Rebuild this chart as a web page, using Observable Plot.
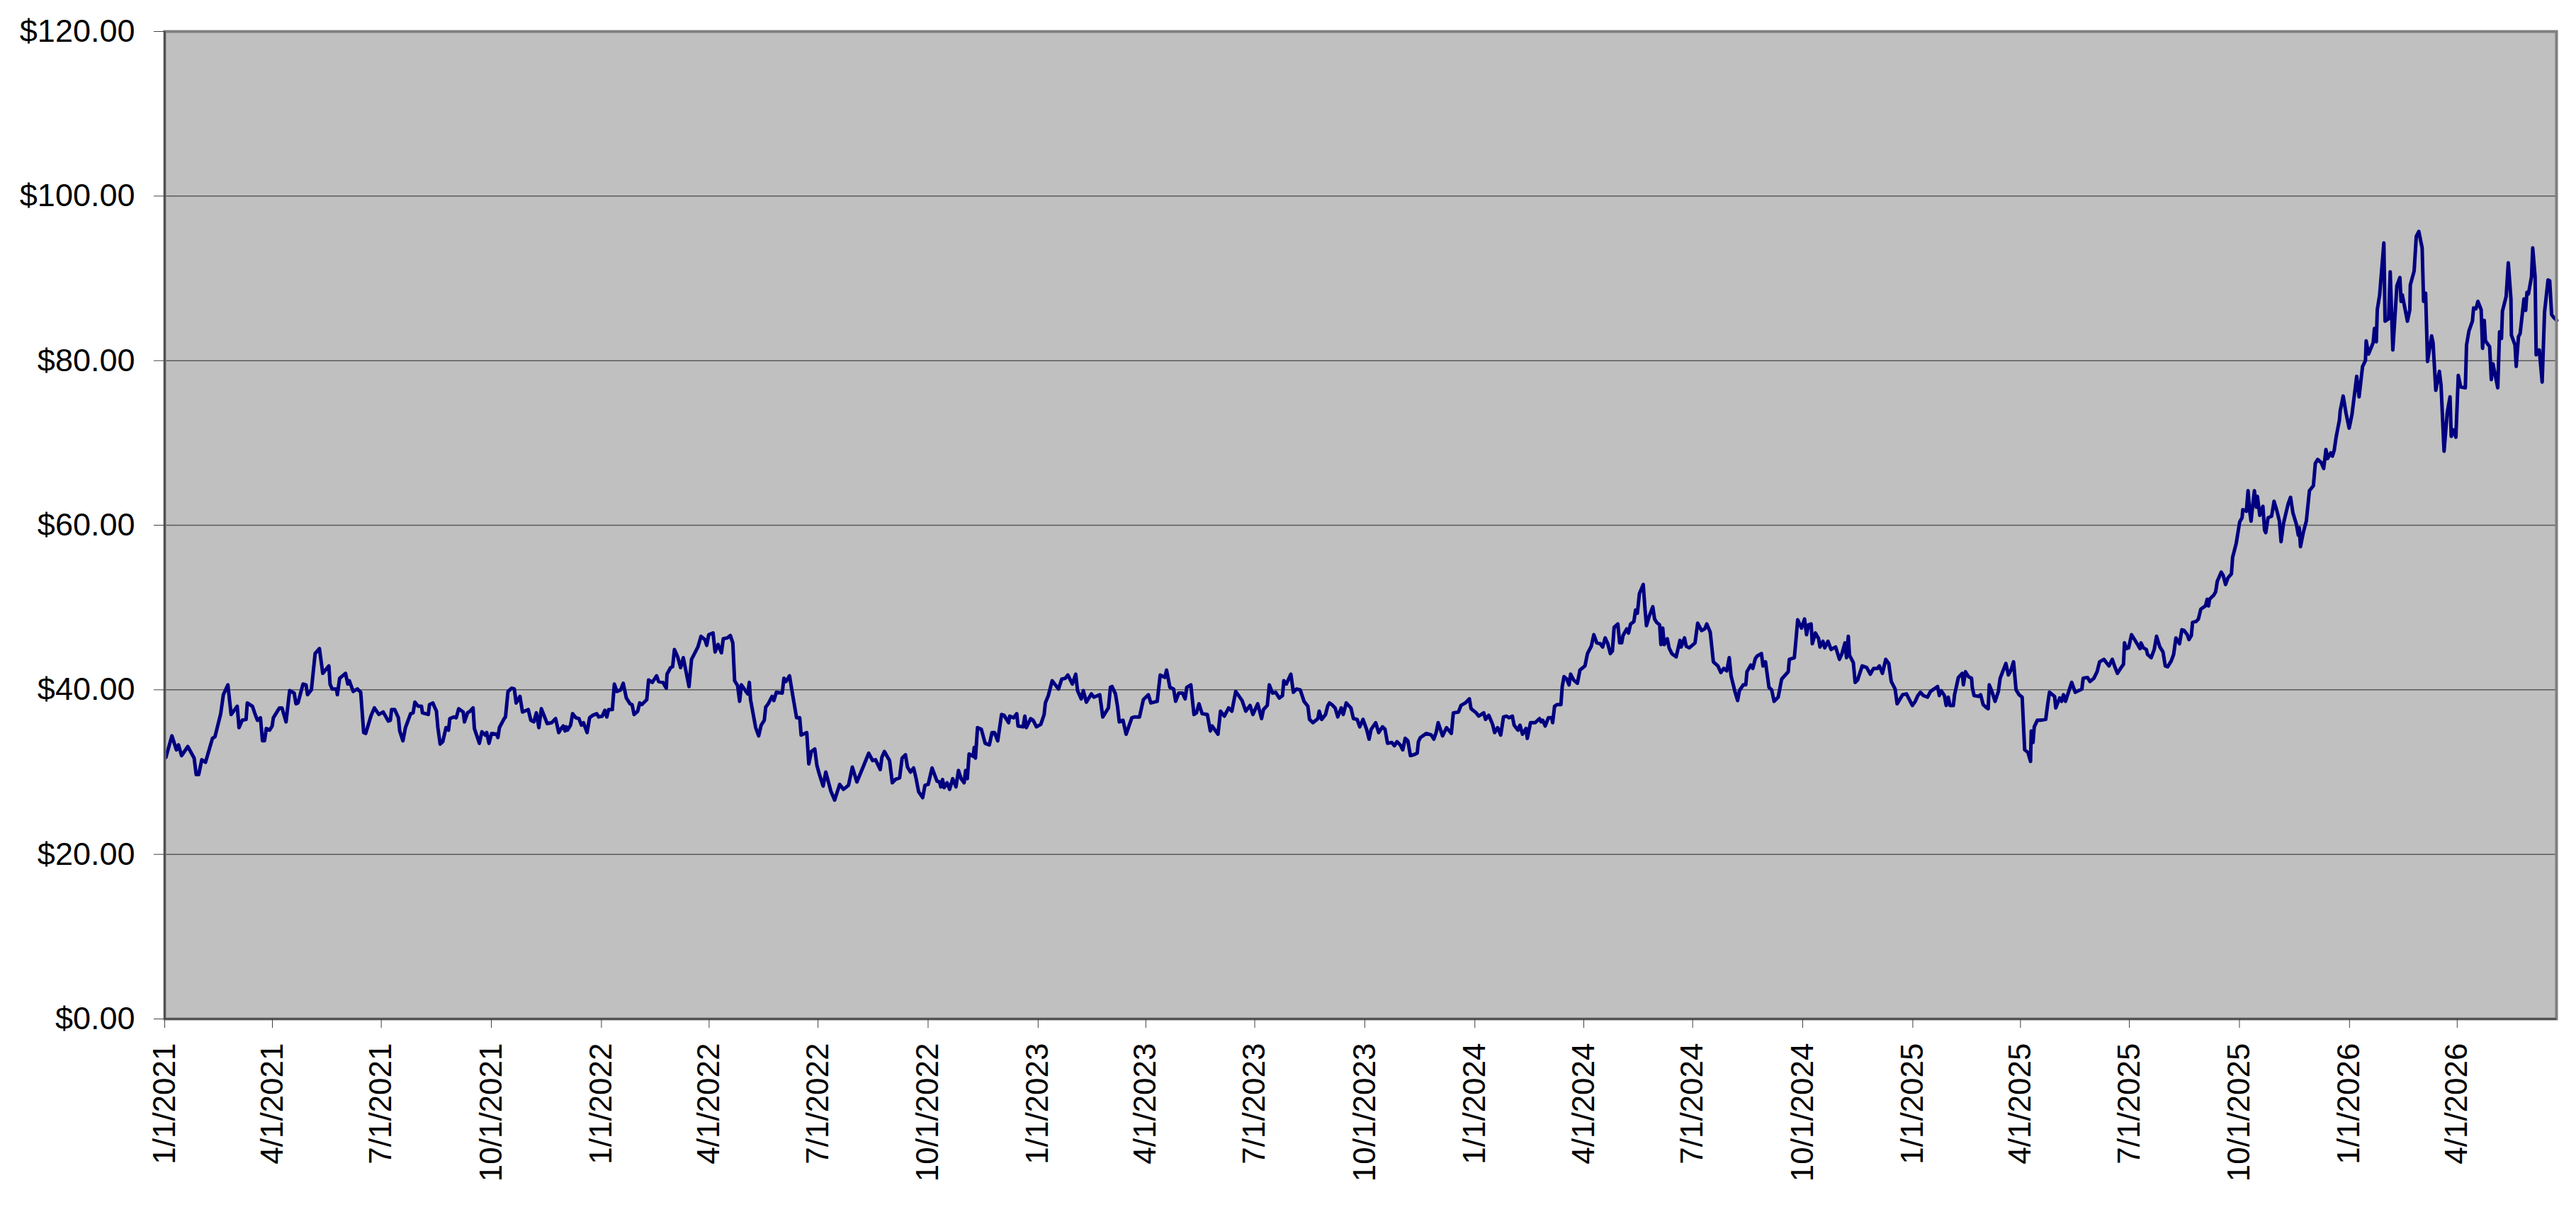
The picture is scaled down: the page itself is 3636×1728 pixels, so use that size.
<!DOCTYPE html>
<html>
<head>
<meta charset="utf-8">
<script src="https://cdn.jsdelivr.net/npm/d3@7"></script>
<script src="https://cdn.jsdelivr.net/npm/@observablehq/plot@0.6"></script>
<style>
  html, body { margin: 0; padding: 0; background: #ffffff; }
  #chart svg { display: block; }
</style>
</head>
<body>
<div id="chart"></div>
<script>
// ---- Data ----
const startDate = "2021-01-01";
const endDate = "2026-06-23";

// days after 1/1/2021
const dayOffsets = [
1,6.0,9.8,11.5,14.1,19.3,24.6,26.3,28.4,31.0,34.1,39.9,42.0,46.8,49.0,52.8,55.5,60.6,62.1,64.8,68.0,69.0,73.3,75.4,77.5,80.0,81.7,83.4,84.9,87.7,89.8,90.8,95.9,98.0,101.4,104.4,108.2,109.7,111.4,115.6,118.1,119.4,122.6,125.7,129.3,132.1,137.2,138.2,139.9,143.5,144.3,146.2,151.1,153.0,154.3,157.5,161.1,163.8,166.3,168.0,172.3,175.2,179.0,182.6,186.9,188.6,189.6,192.2,195.3,196.4,199.1,201.2,205.5,207.6,209.1,211.8,214.6,215.4,220.3,221.3,224.1,227.1,228.3,230.2,232.4,235.1,237.2,238.3,241.4,243.6,245.7,249.5,250.5,253.1,255.2,257.7,258.8,263.0,265.1,267.9,269.1,271.0,273.2,277.4,278.5,279.7,283.7,284.8,286.9,290.1,292.2,293.7,296.9,299.0,303.8,306.0,308.5,310.6,312.7,314.8,319.7,
323.4,326.7,329.3,331.4,333.1,334.6,335.6,336.7,339.2,340.9,343.7,346.2,348.3,350.0,353.0,355.1,357.8,361.0,362.7,365.7,367.8,369.5,371.0,374.1,375.8,377.9,381.1,383.2,385.8,388.9,390.6,392.3,395.3,397.0,398.7,402.9,404.4,407.5,411.1,412.8,416.4,419.2,419.8,422.8,424.5,426.0,428.7,431.2,433.4,438.2,440.3,443.5,445.6,448.2,451.5,453.0,454.7,458.3,460.0,462.5,465.3,466.8,470.0,472.7,474.8,476.3,478.8,480.5,482.0,485.8,487.3,488.6,489.6,493.9,496.4,498.5,501.1,502.3,504.4,507.6,509.1,511.2,516.1,517.5,519.2,522.2,524.9,528.1,530.7,531.9,536.6,538.3,540.4,543.3,545.1,547.2,550.3,552.5,556.7,559.9,564.1,567.3,571.5,574.7,578.5,584.2,588.4,591.6,594.1,598.0,599.4,601.5,605.8,608.1,610.6,614.2,616.3,619.1,620.8,623.3,625.9,628.0,630.1,633.5,635.4,638.1,641.3,
645.5,647.6,648.6,650.1,651.4,653.9,656.0,658.6,661.3,663.4,665.6,668.1,669.4,670.8,672.3,675.7,676.6,677.6,679.3,682.5,685.7,689.2,691.4,693.5,696.2,699.4,701.5,705.3,706.2,709.6,712.1,713.2,717.4,718.9,720.1,723.7,725.8,728.6,732.2,735.0,736.0,738.5,741.7,747.0,749.7,752.7,754.8,758.6,761.4,762.9,766.0,767.7,770.3,774.5,776.6,781.5,784.0,788.7,790.4,791.8,794.6,796.3,797.8,800.9,803.5,808.3,810.5,814.7,817.9,822.1,824.2,829.5,832.0,835.9,837.3,840.1,843.2,844.9,847.5,850.7,852.8,854.2,857.6,860.2,862.3,864.4,867.0,871.4,873.9,875.4,880.3,882.4,885.6,889.2,891.9,895.1,900.4,903.5,907.1,909.5,913.5,916.7,918.3,921.5,923.2,925.8,928.5,931.5,934.2,935.3,937.4,941.2,943.3,945.9,949.0,952.2,955.4,956.8,959.6,963.8,964.9,967.0,970.2,971.9,
973.4,975.5,978.2,980.4,983.3,985.0,987.5,991.4,993.5,996.6,998.8,1001.5,1004.5,1006.6,1008.3,1012.1,1014.6,1017.8,1019.9,1022.0,1025.6,1027.7,1029.9,1032.6,1034.7,1036.8,1039.0,1041.1,1043.8,1046.8,1047.8,1049.5,1054.4,1058.6,1060.7,1062.6,1064.3,1068.0,1071.3,1075.3,1077.0,1081.3,1083.4,1087.0,1090.4,1091.8,1096.1,1098.2,1102.4,1103.9,1106.6,1109.8,1111.5,1114.0,1116.6,1118.9,1121.5,1123.6,1126.3,1127.8,1131.0,1132.7,1134.8,1137.7,1138.8,1141.5,1145.4,1149.0,1150.4,1151.7,1153.8,1156.4,1159.1,1160.0,1161.6,1163.8,1166.9,1168.0,1169.5,1171.8,1173.7,1175.0,1177.5,1180.7,1182.8,1187.0,1189.1,1192.3,1194.4,1196.9,1199.7,1201.8,1203.9,1206.1,1208.2,1209.9,1211.4,1214.5,1216.0,1217.7,1218.8,1221.9,1223.4,1225.1,1227.9,1229.3,1230.8,1232.5,1235.7,1237.2,1238.4,1240.6,1243.7,1245.2,1246.9,1249.4,1250.5,1252.0,1253.2,1255.8,1257.3,1259.6,1263.2,1266.4,1267.4,1270.2,1271.6,1274.2,1279.0,1281.2,1284.4,1287.1,1288.8,1291.7,1294.3,1298.1,1300.6,
1303.0,1305.5,1307.6,1309.1,1312.5,1314.6,1316.1,1319.3,1321.4,1322.4,1325.6,1327.3,1329.4,1330.9,1334.5,1335.8,1337.9,1340.8,1343.0,1345.1,1348.5,1351.4,1356.9,1357.8,1362.0,1363.3,1364.8,1368.0,1370.5,1372.2,1373.8,1376.0,1377.0,1379.6,1382.3,1383.4,1385.9,1387.4,1390.1,1392.7,1396.5,1399.7,1401.8,1404.3,1405.6,1407.1,1408.1,1411.3,1412.8,1414.9,1418.7,1422.5,1425.5,1428.2,1431.4,1433.1,1435.6,1438.4,1440.9,1443.0,1446.2,1447.9,1452.5,1455.7,1460.6,1463.1,1465.2,1467.4,1469.9,1473.3,1475.8,1481.7,1483.2,1484.7,1487.4,1488.9,1490.6,1492.1,1494.9,1495.9,1499.1,1502.3,1503.3,1505.0,1507.5,1510.1,1510.7,1512.2,1516.0,1517.7,1519.8,1522.8,1524.0,1524.9,1526.6,1529.8,1532.5,1534.0,1536.1,1538.8,1540.9,1543.1,1545.2,1547.3,1549.8,1552.4,1554.5,1557.2,1559.4,1560.0,1561.5,1562.5,1565.1,1567.8,1572.1,1573.5,1575.2,1579.5,1580.5,1583.7,1585.4,1586.9,1588.6,1591.1,1593.8,1596.8,1602.3,1603.4,1607.0,1609.1,1612.3,1615.0,1617.1,1620.7,1622.8,1625.0,1627.7,
1629.6,1632.0,1635.1,1637.1,1637.9,1639.5,1641.4,1643.8,1646.4,1648.9,1650.9,1651.7,1653.7,1656.2,1657.2,1660.2,1662.8,1664.7,1667.5,1670.1,1672.0,1674.0,1677.0,1679.0,1680.9,1683.9,1685.9,1687.8,1690.4,1691.8,1693.8,1694.8,1697.7,1699.7,1701.7,1705.6,1707.0,1708.2,1709.0,1712.5,1714.1,1715.5,1718.8,1720.4,1722.4,1724.4,1727.3,1728.3,1731.3,1734.2,1736.2,1736.8,1739.8,1741.2,1742.5,1743.7,1745.1,1746.5,1748.1,1749.0,1751.0,1753.6,1755.0,1756.0,1757.9,1760.9,1762.9,1765.4,1767.4,1768.8,1770.8,1774.7,1776.7,1778.7,1781.6,1783.2,1784.0,1785.0,1787.5,1789.9,1792.5,1795.8,1797.4,1799.4,
1802.4,1804.4,1806.3,1807.7,1810.3,1811.7,1813.2,1814.8,1817.6,1818.2,1820.7,1823.1,1825.7,1828.0,1832.0,1834.0,1836.9,1839.3,1839.9,1841.9,1845.8,1846.8,1848.4,1849.2,1851.2,1854.7,1855.7,1858.7,1860.0,1862.2,1865.6,1868.1,1869.1,1870.1,1874.4,1876.4,1876.8,1880.0,1881.8,1883.9,1886.7,1887.9,1889.6,1891.2,1894.6,1895.8,1898.1,1901.1,1902.5,1905.0,1907.6,1910.0,1911.0,1913.0,1914.9,1916.9,1918.9,1922.8,1923.8,1925.8,1928.7,1929.7,1931.7,1933.3,1936.0,1937.2,1938.6,1939.6,1943.1,1944.5,1945.9,1949.9,1951.4,1953.0,1953.8,1956.9,1958.7,1960.9,1961.3,1964.3,1965.3,1967.2,1968.6,1971.8,1973.2,1974.3,1975.5,1978.1,1979.1,1981.1,1982.0,1984.6,1987.0,1989.0,1991.9,1993.3,1994.9,1996.9,1999.2
];

// price in dollars
const prices = [
31.8,34.4,32.7,33.3,32.0,33.1,31.7,29.7,29.7,31.5,31.2,34.1,34.3,37.1,39.4,40.6,37.0,38.0,35.4,36.3,36.4,38.4,38.0,37.1,36.3,36.6,33.8,33.8,35.3,35.1,35.6,36.6,37.8,37.8,36.1,39.9,39.6,38.3,38.4,40.7,40.6,39.4,40.0,44.4,45.0,42.0,42.9,40.7,40.1,40.1,39.4,41.4,42.0,40.7,41.1,39.8,40.1,39.7,34.8,34.7,36.8,37.8,37.0,37.3,36.2,36.3,37.6,37.6,36.6,35.0,33.8,35.4,37.1,37.2,38.5,38.0,38.0,37.2,37.0,38.2,38.4,37.4,35.4,33.4,33.7,35.4,35.1,36.5,36.7,36.6,37.7,37.3,36.1,37.2,37.4,37.8,35.3,33.5,34.9,34.5,34.8,33.5,34.7,34.6,34.2,35.4,36.5,36.7,39.8,40.2,40.1,38.4,39.2,37.3,37.6,36.3,36.1,37.2,35.4,37.7,35.9,
36.0,36.5,34.8,35.3,35.6,35.0,35.5,35.1,35.7,37.1,36.6,36.5,35.7,36.0,34.8,36.6,36.9,37.1,36.7,36.8,37.5,36.7,37.6,37.6,40.7,39.8,40.0,40.8,39.0,38.3,38.2,37.0,37.4,38.4,38.2,38.8,41.2,40.9,41.7,41.0,40.9,40.2,41.9,42.7,42.8,44.9,44.0,42.7,43.9,40.4,43.7,44.6,45.2,46.5,46.1,45.4,46.7,46.9,44.6,45.5,44.5,46.2,46.3,46.6,45.7,41.1,40.5,38.6,40.6,39.8,39.5,40.9,38.8,35.4,34.4,35.7,36.3,37.9,38.3,39.2,38.7,39.7,39.6,41.4,41.0,41.7,39.3,36.6,36.6,34.5,34.8,31.0,32.5,32.8,30.8,29.7,28.3,30.0,27.7,26.6,28.5,27.9,28.4,30.6,28.8,30.8,32.3,31.4,31.5,30.3,31.8,32.5,31.4,28.7,29.1,29.3,31.7,32.1,30.6,30.0,30.5,29.2,27.6,26.9,28.4,28.5,30.5,
28.9,28.8,28.2,29.1,28.1,28.7,27.9,29.2,28.2,30.2,29.2,28.7,30.2,29.2,32.2,31.9,33.0,31.7,35.4,35.2,33.5,33.3,34.8,34.8,33.8,37.0,36.9,36.0,36.8,36.6,37.1,35.6,35.5,36.8,35.4,36.5,36.3,35.5,35.8,37.0,38.4,39.3,41.1,40.1,41.3,41.4,41.8,40.7,41.9,39.9,38.9,39.9,38.5,39.5,39.1,39.4,36.7,37.8,40.3,40.4,39.5,38.0,36.1,36.3,34.6,36.6,36.7,36.7,38.8,39.4,38.4,38.6,41.8,41.5,42.4,40.3,40.1,38.6,39.6,39.6,38.9,40.3,40.6,37.0,37.2,38.3,37.1,37.0,35.0,35.6,34.6,37.4,36.8,37.8,37.4,39.8,38.7,37.4,38.1,37.0,38.3,36.5,37.6,38.1,40.6,39.6,39.7,39.0,39.3,41.1,40.7,41.9,39.7,40.1,40.0,38.6,38.0,36.4,36.0,36.5,37.4,36.4,37.0,38.0,
38.4,38.2,37.8,36.7,37.8,37.0,38.4,37.8,36.5,36.4,35.5,36.4,35.2,34.0,35.2,36.0,34.8,35.5,35.2,33.5,33.6,33.2,33.7,33.3,32.7,34.1,33.8,32.0,32.1,32.3,33.7,34.2,34.7,34.5,34.0,34.8,36.0,34.4,35.4,34.7,37.2,37.3,38.1,38.4,38.9,37.7,37.2,36.8,37.2,36.4,36.9,35.8,34.8,35.4,34.5,36.7,36.8,36.6,36.8,35.7,35.1,35.7,34.6,35.3,34.1,36.0,36.0,36.5,36.1,36.3,35.6,36.6,36.6,36.0,38.0,38.2,38.2,40.4,41.6,41.3,40.6,41.9,41.2,40.8,42.4,42.9,44.4,45.3,46.7,45.7,45.6,45.2,46.3,45.6,44.4,44.7,47.6,48.0,45.7,45.7,46.6,47.4,46.9,48.0,48.3,49.7,49.3,51.7,52.8,49.8,47.8,48.9,50.1,48.6,48.2,47.9,45.5,47.5,45.5,46.2,45.1,44.4,44.0,46.0,45.2,46.3,45.3,45.1,45.7,48.1,47.2,47.4,48.0,47.0,43.4,42.9,42.1,
42.6,42.3,43.9,41.7,39.7,38.7,39.9,40.6,40.6,42.2,43.0,42.6,43.8,44.1,44.4,42.9,43.4,40.3,40.0,38.6,39.1,41.3,42.2,43.7,43.9,46.0,48.5,47.5,48.6,46.7,47.9,48.0,45.6,46.9,46.2,45.2,45.9,45.1,45.9,44.9,45.2,43.7,44.4,45.7,43.9,46.5,44.2,43.3,40.9,41.2,42.9,42.7,41.9,42.6,42.6,42.9,42.0,43.7,43.2,41.0,40.1,38.3,39.4,39.5,38.1,38.6,39.3,39.7,39.3,39.1,39.8,40.4,39.3,39.9,39.3,38.1,39.1,38.1,38.1,39.4,41.5,42.0,40.6,42.2,41.6,41.4,40.3,39.3,39.2,39.4,38.2,37.8,37.7,40.6,40.0,38.6,39.8,41.4,42.2,43.2,41.8,42.4,43.4,40.0,39.4,39.1,32.7,32.4,31.3,35.0,33.6,35.5,36.3,36.3,36.4,38.0,39.7,39.2,37.8,39.0,38.6,39.4,38.6,39.7,40.9,39.7,40.1,41.4,41.5,41.0,41.4,42.2,43.4,43.7,43.3,42.9,43.7,
42.9,42.0,42.7,43.1,45.7,45.0,45.1,46.7,46.1,45.5,45.0,45.7,45.1,44.9,44.3,43.9,44.9,46.5,45.2,44.6,42.9,42.8,43.5,44.3,46.3,45.6,47.3,47.2,46.7,46.1,46.6,48.2,48.3,48.6,49.8,50.2,51.0,50.2,51.0,51.5,51.9,53.2,54.3,53.9,52.8,53.6,54.1,56.1,57.8,60.4,60.9,61.9,61.7,64.2,61.8,60.5,62.4,64.2,62.2,63.5,61.2,62.3,59.4,59.1,60.9,61.1,62.9,61.7,60.5,58.0,60.2,62.6,63.4,61.5,60.1,58.8,59.7,57.4,59.2,60.5,64.2,64.8,67.5,68.0,
67.6,66.9,69.2,68.1,68.8,68.4,69.1,70.7,72.8,73.9,75.7,73.6,71.8,73.4,78.1,75.6,79.3,80.0,82.4,80.8,82.2,83.9,82.3,86.2,88.0,94.3,84.8,85.1,90.8,81.3,89.1,90.1,87.2,88.0,84.8,86.2,89.2,90.9,95.1,95.7,93.7,87.2,88.2,79.9,83.0,82.2,76.4,78.7,77.0,69.0,73.6,75.6,70.8,71.6,70.7,78.2,76.8,76.7,81.9,83.6,84.8,86.4,86.3,87.2,86.2,81.5,84.9,82.4,81.7,77.7,79.6,76.7,83.5,82.7,86.0,87.8,91.9,87.5,83.1,81.9,79.3,82.9,83.3,87.5,86.1,88.3,88.1,90.2,93.7,90.2,80.7,81.3,77.4,85.9,89.8,89.7,85.6,85.2,84.9
];

// axis tick labels
const xTickLabels = [
  "1/1/2021","4/1/2021","7/1/2021","10/1/2021",
  "1/1/2022","4/1/2022","7/1/2022","10/1/2022",
  "1/1/2023","4/1/2023","7/1/2023","10/1/2023",
  "1/1/2024","4/1/2024","7/1/2024","10/1/2024",
  "1/1/2025","4/1/2025","7/1/2025","10/1/2025",
  "1/1/2026","4/1/2026"
];
const yTickValues = [0, 20, 40, 60, 80, 100, 120];

// ---- Build ----
const parseISO = d3.utcParse("%Y-%m-%d");
const parseUS = d3.utcParse("%m/%d/%Y");
const start = parseISO(startDate);
const end = parseISO(endDate);
const data = dayOffsets.map((d, i) => ({ date: new Date(+start + d * 864e5), price: prices[i] }));
const tickDates = xTickLabels.map(parseUS);
const fmtX = d3.utcFormat("%-m/%-d/%Y");

const chart = Plot.plot({
  width: 3636,
  height: 1728,
  marginLeft: 232,
  marginRight: 28,
  marginTop: 44,
  marginBottom: 290,
  style: { fontFamily: "'Liberation Sans', Arial, sans-serif", fontSize: "44px", color: "#000", background: "#fff" },
  x: { type: "utc", domain: [start, end], label: null },
  y: { domain: [0, 120], label: null },
  marks: [
    Plot.frame({ fill: "#c0c0c0", stroke: null }),
    Plot.gridY(yTickValues, { stroke: "#5a5a5a", strokeOpacity: 1, strokeWidth: 1.5 }),
    Plot.line(data, { x: "date", y: "price", stroke: "#000080", strokeWidth: 5, strokeLinejoin: "round" }),
    Plot.frame({ stroke: "#808080", strokeWidth: 4, fill: null }),
    Plot.ruleX([start], { stroke: "#404040", strokeWidth: 2 }),
    Plot.ruleY([0], { stroke: "#404040", strokeWidth: 2 }),
    Plot.axisY(yTickValues, { tickFormat: d => "$" + d.toFixed(2), tickSize: 15, tickPadding: 27, stroke: "#404040", fontSize: 45, label: null }),
    Plot.axisX(tickDates, { tickFormat: fmtX, tickRotate: -90, tickSize: 13, tickPadding: 21, stroke: "#404040", fontSize: 44, label: null })
  ]
});
document.getElementById("chart").appendChild(chart);
</script>
</body>
</html>
